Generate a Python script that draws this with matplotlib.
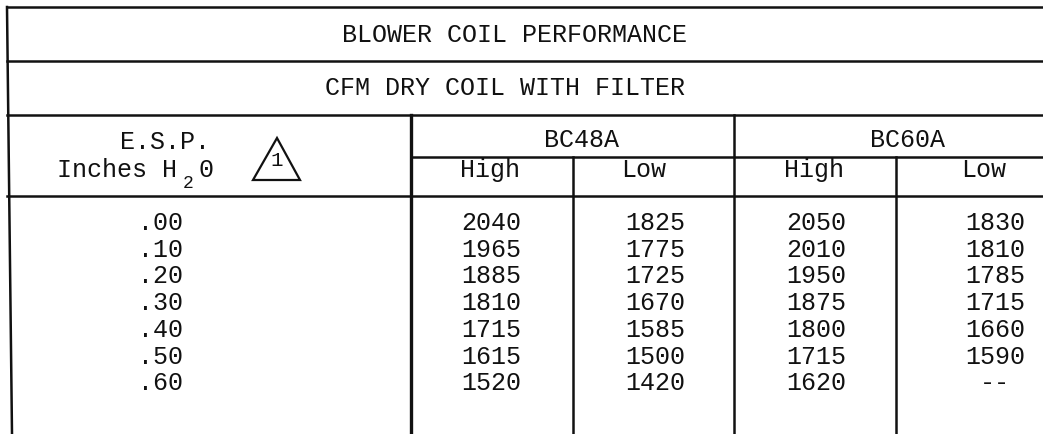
import matplotlib.pyplot as plt
from matplotlib.patches import Polygon

plt.rcParams['font.family'] = ['Liberation Mono', 'DejaVu Sans Mono']

# table data
title = 'BLOWER COIL PERFORMANCE'
subtitle = 'CFM DRY COIL WITH FILTER'
models = ['BC48A', 'BC60A']
speeds = ['High', 'Low']
esp = ['.00', '.10', '.20', '.30', '.40', '.50', '.60']
bc48a_high = [2040, 1965, 1885, 1810, 1715, 1615, 1520]
bc48a_low = [1825, 1775, 1725, 1670, 1585, 1500, 1420]
bc60a_high = [2050, 2010, 1950, 1875, 1800, 1715, 1620]
bc60a_low = [1830, 1810, 1785, 1715, 1660, 1590, None]

W, H = 1043, 434
ink = '#111111'
lw = 1.8

fig = plt.figure(figsize=(W / 100, H / 100), dpi=100)
ax = fig.add_axes([0, 0, 1, 1])
ax.set_xlim(0, W)
ax.set_ylim(H, 0)
ax.axis('off')

# grid (pixel layout of the scanned sheet)
col_x = [411, 573, 734, 896]
ax.plot([7, 12], [7, H], color=ink, lw=lw)
for y in [7, 61, 115, 196]:
    ax.plot([7, W], [y, y], color=ink, lw=lw)
ax.plot([col_x[0], W], [157, 157], color=ink, lw=lw)
ax.plot([col_x[0], col_x[0]], [115, H], color=ink, lw=2.4)
ax.plot([col_x[2], col_x[2]], [115, H], color=ink, lw=lw)
ax.plot([col_x[1], col_x[1]], [157, H], color=ink, lw=lw)
ax.plot([col_x[3], col_x[3]], [157, H], color=ink, lw=lw)

fs = 18
ax.text(514, 35, title, ha='center', va='center', fontsize=fs, color=ink)
ax.text(505, 88, subtitle, ha='center', va='center', fontsize=fs, color=ink)

# E.S.P. header
ax.text(165, 142, 'E.S.P.', ha='center', va='center', fontsize=fs, color=ink)
ax.text(117, 170, 'Inches H', ha='center', va='center', fontsize=fs, color=ink)
ax.text(188, 183, '2', ha='center', va='center', fontsize=13, color=ink)
ax.text(206, 170, '0', ha='center', va='center', fontsize=fs, color=ink)
ax.add_patch(Polygon([[253, 180], [300, 180], [277, 138]], closed=True,
                     fill=False, edgecolor=ink, lw=1.6))
ax.text(277, 161, '1', ha='center', va='center', fontsize=15, color=ink)

# model / speed headers
ax.text(581, 140, models[0], ha='center', va='center', fontsize=fs, color=ink)
ax.text(907, 140, models[1], ha='center', va='center', fontsize=fs, color=ink)
data_x = [491, 655, 816, 995]
for i, x in enumerate([490, 644, 814, 984]):
    ax.text(x, 170, speeds[i % 2], ha='center', va='center', fontsize=fs, color=ink)

# data rows
y0, dy = 223, 26.7
columns = [bc48a_high, bc48a_low, bc60a_high, bc60a_low]
for r, e in enumerate(esp):
    y = y0 + r * dy
    ax.text(160, y, e, ha='center', va='center', fontsize=fs, color=ink)
    for x, col in zip(data_x, columns):
        v = col[r]
        ax.text(x, y, '--' if v is None else str(v), ha='center', va='center',
                fontsize=fs, color=ink)

fig.savefig('out.png', dpi=100)
